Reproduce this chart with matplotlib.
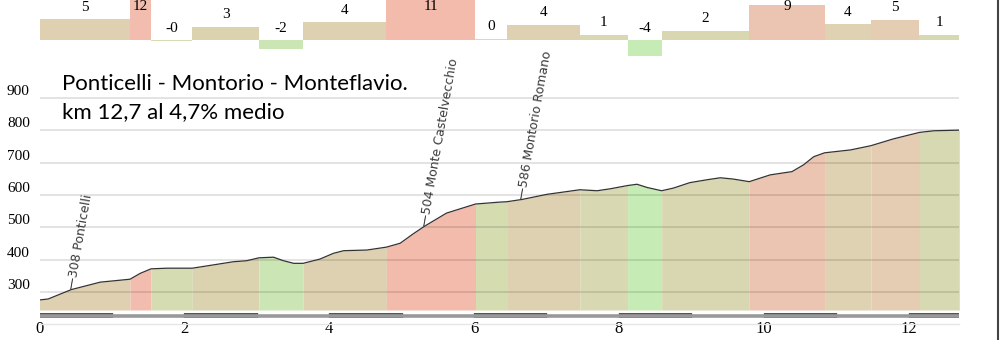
import matplotlib.pyplot as plt
from matplotlib.lines import Line2D
import numpy as np

# profilo altimetrico: km e quota (m)
km = [0, 0.12, 0.44, 0.84, 1.07, 1.25, 1.39, 1.54, 1.76, 2.11, 2.31, 2.68, 2.86,
      3.03, 3.23, 3.37, 3.51, 3.64, 3.87, 4.06, 4.20, 4.52, 4.79, 4.98, 5.16,
      5.32, 5.62, 6.02, 6.36, 6.45, 6.66, 7.01, 7.46, 7.70, 7.88, 8.12, 8.25,
      8.39, 8.59, 8.75, 8.98, 9.22, 9.40, 9.58, 9.80, 10.09, 10.39, 10.55,
      10.69, 10.84, 11.20, 11.48, 11.79, 12.15, 12.35, 12.70]
quota = [276, 279, 308, 331, 336, 340, 358, 372, 374, 374, 381, 394, 397,
         406, 408, 397, 389, 389, 402, 420, 428, 430, 439, 451, 480,
         504, 544, 572, 578, 579, 586, 602, 616, 613, 619, 629, 633,
         623, 613, 621, 638, 647, 653, 649, 641, 662, 672, 693,
         718, 730, 739, 752, 773, 793, 798, 800]

# tratti con pendenza media (%)
tratti = [0, 1.25, 1.54, 2.11, 3.03, 3.64, 4.79, 6.02, 6.45, 7.46, 8.12, 8.59,
          9.80, 10.84, 11.48, 12.15, 12.70]
pendenze = [5.1, 11.8, -0.2, 3.2, -2.3, 4.3, 10.8, 0.3, 3.7, 1.3, -3.9, 2.2,
            8.6, 3.8, 5.0, 1.3]
colori = ['#ded0b0', '#f2bcae', '#d6dcb2', '#dbd3b0', '#cbe6b4', '#ded1b1',
          '#f2bbac', '#d4dcb0', '#ded1b1', '#d8d9b2', '#c6ebb4', '#d9d7b2',
          '#ebc4b2', '#dfd2b2', '#e4cdb2', '#d7d9b2']

# località
luoghi_km = [0.44, 5.32, 6.66]
luoghi_quota = [308, 504, 586]
luoghi_nome = ["Ponticelli", "Monte Castelvecchio", "Montorio Romano"]

W, H = 1000, 340
fig = plt.figure(figsize=(10, 3.4), dpi=100)
x0, x1 = 39.5 / W, 959.3 / W
serif = 'Liberation Serif'

# ---- profilo ----
ax = fig.add_axes([x0, 1 - 310 / H, x1 - x0, (310 - 88) / H])
ax.set_xlim(0, 12.7)
ax.set_ylim(245, 930)
kma = np.array(km)
qa = np.array(quota)
for i in range(len(pendenze)):
    m = (kma >= tratti[i]) & (kma <= tratti[i + 1])
    ax.fill_between(kma[m], 245, qa[m], color=colori[i], lw=0, zorder=1)
ax.plot(km, quota, color='#333333', lw=0.9, zorder=4)
for y in range(300, 1000, 100):
    ax.axhline(y, color='black', alpha=0.12, lw=1.3, zorder=3)
ax.set_yticks(range(300, 1000, 100))
ax.set_xticks(range(0, 13, 2))
ax.tick_params(length=0)
ax.tick_params(axis='y', pad=7)
ax.tick_params(axis='x', pad=8)
for t in ax.get_yticklabels():
    t.set_fontfamily(serif)
    t.set_fontsize(11)
    t.set_verticalalignment('bottom')
for t in ax.get_xticklabels():
    t.set_fontfamily(serif)
    t.set_fontsize(12)
for s in ax.spines.values():
    s.set_visible(False)

for k, q, n in zip(luoghi_km, luoghi_quota, luoghi_nome):
    ax.text(k, q, "\u2014%d %s" % (q, n), rotation=80, rotation_mode='anchor',
            ha='left', va='center', fontsize=9, color='#3a3a3a', zorder=5)

# ---- pendenze in alto ----
scala = 4.1
ax2 = fig.add_axes([x0, 1 - 60 / H, x1 - x0, 60 / H])
ax2.set_xlim(0, 12.7)
ax2.set_ylim(-20 / scala, 40 / scala)
ax2.axis('off')
for i, p in enumerate(pendenze):
    a, b = tratti[i], tratti[i + 1]
    ax2.bar(a, p, width=b - a, align='edge', color=colori[i], lw=0)
    yl = min(max(p, 0) + 12 / scala, (40 - 7) / scala)
    ax2.text((a + b) / 2, yl, format(p, '.0f'), ha='center', va='center',
             fontsize=11, fontfamily=serif, clip_on=False)

# ---- barra chilometrica ----
ax3 = fig.add_axes([x0, 1 - 318 / H, x1 - x0, 5 / H])
ax3.set_xlim(0, 12.7)
ax3.set_ylim(0, 1)
ax3.axis('off')
ax3.axhline(0.5, color='#999999', lw=2.6)
ax3.broken_barh([(k, 1) for k in range(1, 13, 2)], (0.4, 0.2), color='white')
ax3.broken_barh([(k, 1) for k in range(0, 13, 2)], (0, 1), color='#555555')

fig.add_artist(Line2D([x0, x1], [1 - 324 / H] * 2, color='#e6e6e6', lw=1))
fig.add_artist(Line2D([998 / W] * 2, [0, 1], color='#444444', lw=1.5))

# titolo
fig.text(62 / W, 1 - 90 / H, "Ponticelli - Montorio - Monteflavio.",
         fontsize=16, fontfamily='Lato', va='baseline')
fig.text(62 / W, 1 - 118 / H, "km 12,7 al 4,7% medio",
         fontsize=16, fontfamily='Lato', va='baseline')

fig.savefig('out.png', dpi=100)
